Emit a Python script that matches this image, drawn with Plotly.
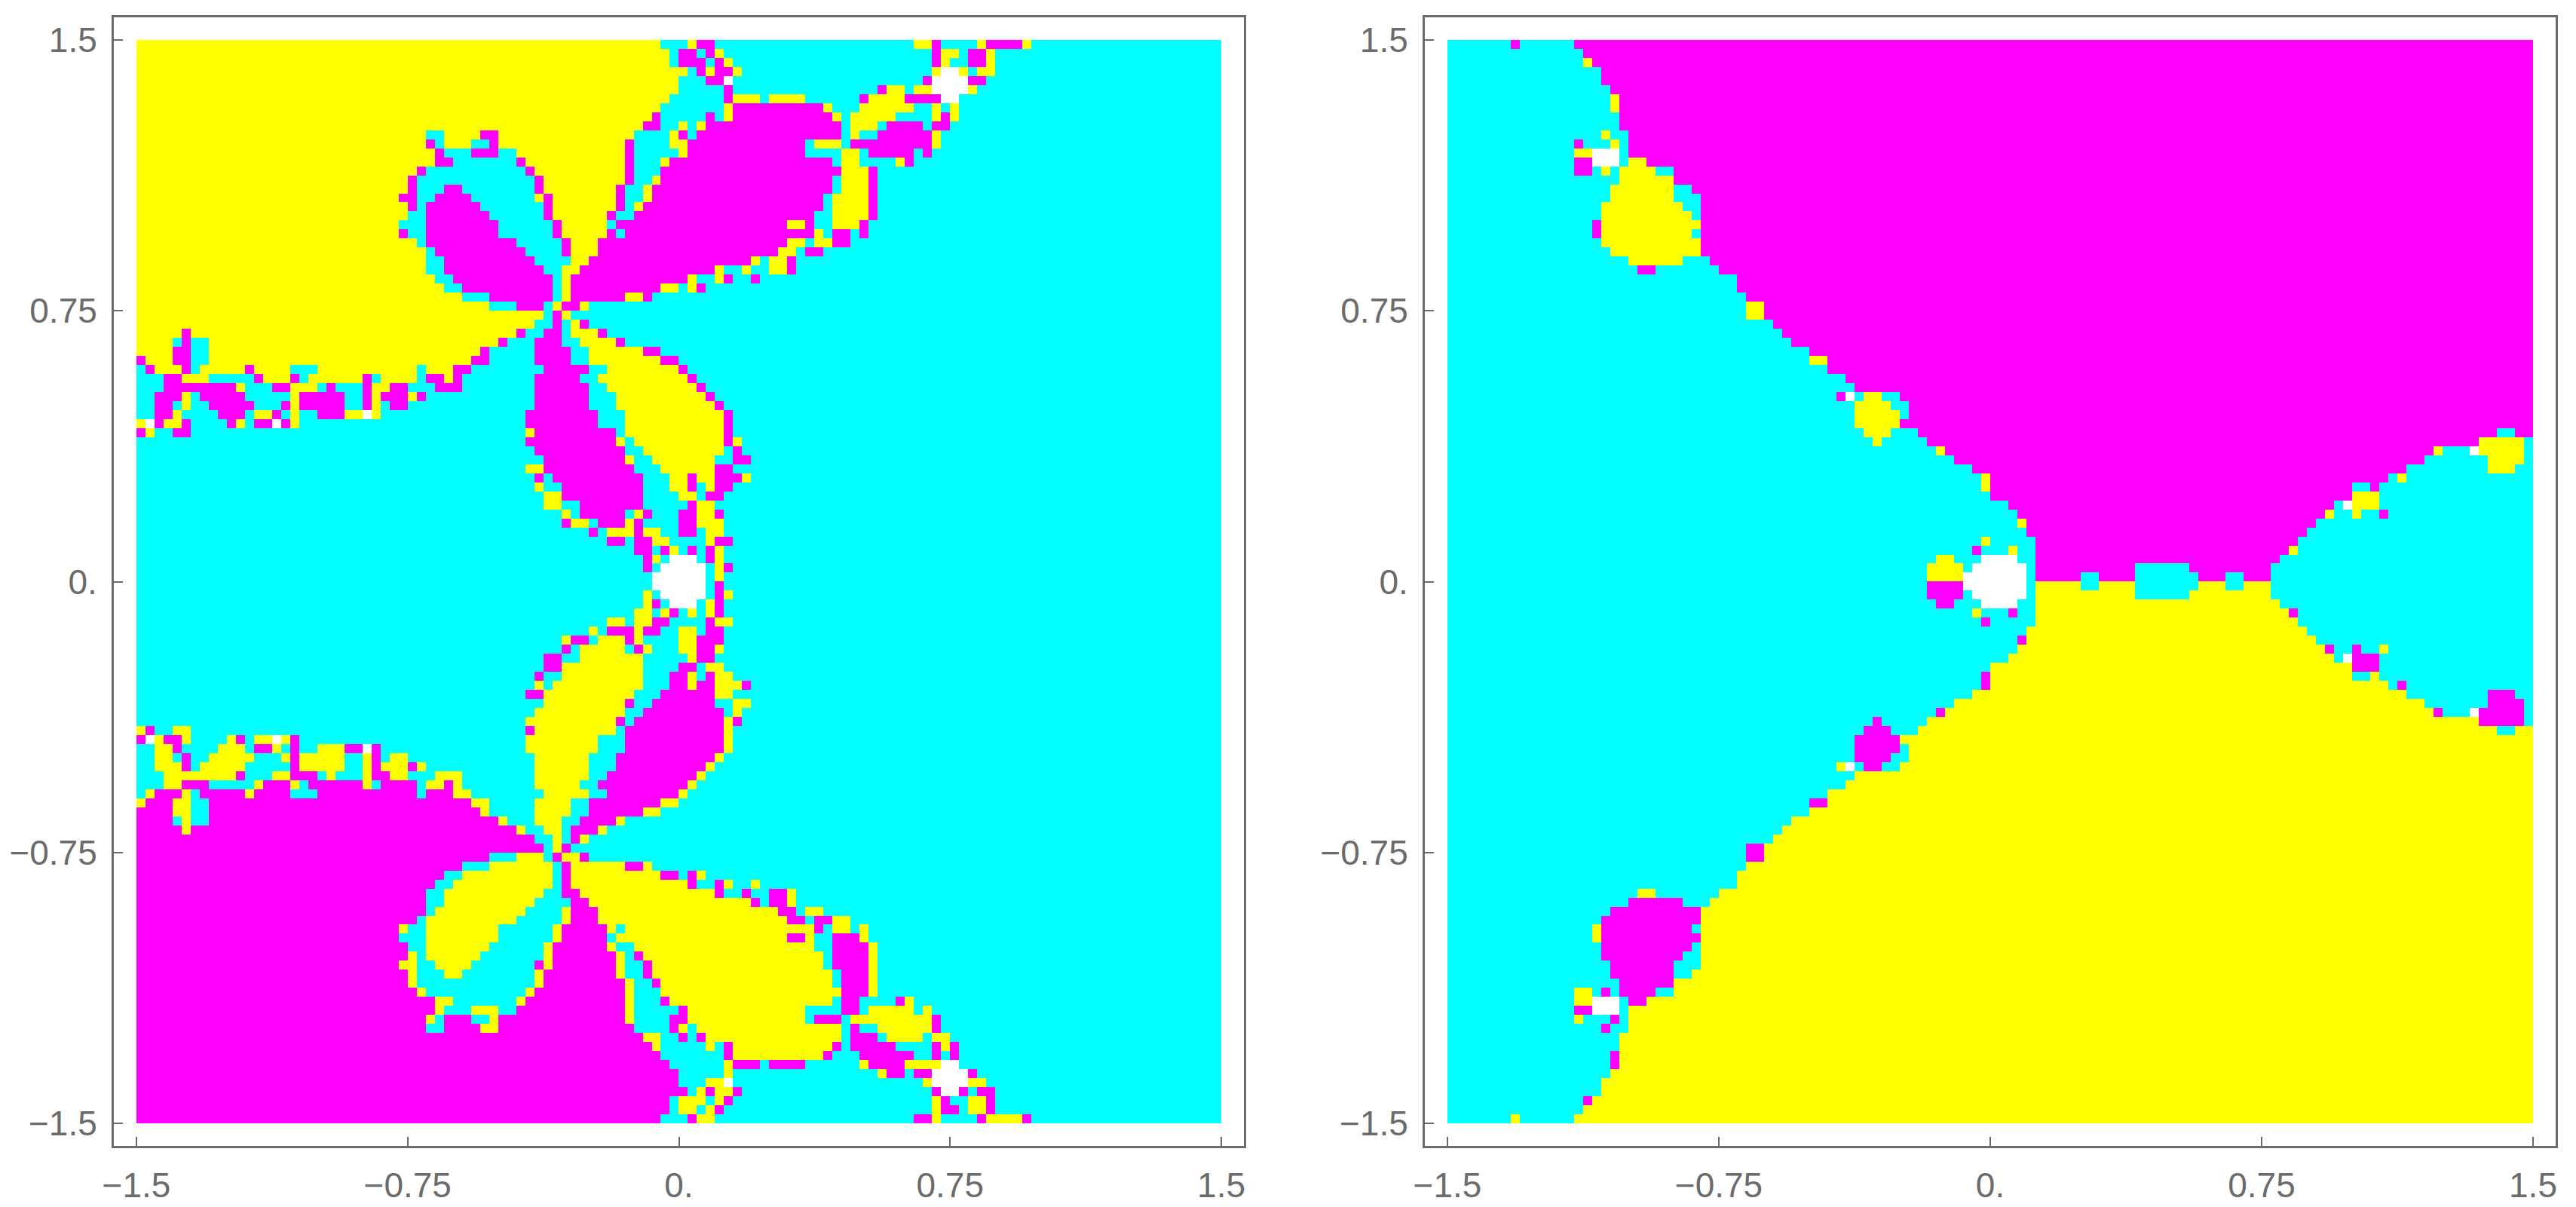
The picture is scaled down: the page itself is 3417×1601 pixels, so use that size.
import plotly.graph_objects as go

# Basin cells, one string per row from y=1.5 down to y=0,
# as run lengths on a 120 column grid. C cyan, Y yellow, M magenta, W white.
LEFT_TOP_ROWS = [
    "58Y 3C 1Y 2M 22C 2Y 1M 4C 1Y 4M 1Y 21C",
    "59Y 1C 2M 1C 1M 1Y 23C 1M 2Y 1C 2M 1Y 25C",
    "59Y 1C 3M 1C 1M 1Y 22C 1M 1Y 2C 2M 1Y 25C",
    "61Y 1C 1M 1Y 2M 1Y 21C 1Y 2W 1Y 1C 2Y 25C",
    "60Y 3C 2M 1W 21C 1M 4W 2M 26C",
    "60Y 5C 1M 16C 1M 2Y 1C 2Y 4W 1Y 27C",
    "59Y 6C 1M 3Y 1C 4Y 6C 1M 4Y 4M 2W 29C",
    "58Y 7C 1Y 10M 1Y 3C 6Y 2C 1Y 1C 1Y 29C",
    "57Y 1M 5C 1M 1C 1Y 11M 1Y 1C 5Y 4C 1Y 1M 1Y 29C",
    "56Y 2M 2C 1Y 1C 1Y 15M 1C 3Y 1C 4M 1C 2M 30C",
    "32Y 2C 4Y 2M 15Y 4C 1Y 1M 1C 16M 1C 1Y 2C 6M 1Y 31C",
    "32Y 1M 1C 3Y 2C 1M 14Y 1M 4C 1Y 1Y 13M 1C 3Y 1C 9M 1Y 31C",
    "33Y 1M 3C 3M 2C 12Y 1M 5C 1Y 13M 4C 2Y 1C 5M 1C 1M 32C",
    "33Y 2M 7C 1M 11Y 1M 3C 1Y 18M 1C 2Y 4C 1Y 1M 34C",
    "31Y 1M 11C 1M 10Y 1M 3C 20M 3Y 1M 38C",
    "30Y 1M 13C 1M 9Y 1M 2C 1Y 19M 1C 3Y 1M 38C",
    "30Y 1M 3C 2M 8C 1M 8Y 1M 2C 1Y 20M 1C 3Y 1M 38C",
    "29Y 2M 2C 4M 7C 1Y 1M 7Y 1M 2C 1Y 19M 1C 4Y 1M 38C",
    "30Y 1M 1C 6M 7C 1M 7Y 1M 1C 1Y 20M 1C 4Y 1M 38C",
    "30Y 2C 7M 6C 1M 6Y 1M 2C 20M 2C 4Y 1M 38C",
    "29Y 3C 8M 6C 1M 5Y 1C 19M 2Y 1M 2C 3Y 1M 39C",
    "29Y 1M 2C 8M 6C 1M 5Y 1M 1C 21M 1Y 1C 2M 1C 1M 39C",
    "31Y 1C 10M 5C 1M 3Y 1M 20M 2Y 1C 2Y 2M 41C",
    "32Y 1C 10M 4C 1M 3Y 20M 2Y 1C 2M 44C",
    "32Y 2C 10M 4C 2Y 18M 1Y 1C 2Y 1M 47C",
    "32Y 2C 11M 2C 2Y 15M 1Y 2C 1Y 2C 2Y 1M 47C",
    "33Y 2C 11M 1C 1Y 13M 1Y 2C 1Y 1M 2C 1M 51C",
    "34Y 2C 10M 1C 1Y 10M 2Y 1C 1Y 1M 1C 56C",
    "36Y 3C 7M 1C 1Y 6M 2Y 1M 63C",
    "39Y 3C 3M 1C 1Y 2M 1Y 1C 69C",
    "45Y 1C 1M 1Y 72C",
    "44Y 2C 1M 1C 1Y 1M 70C",
    "5Y 1M 36Y 1M 2C 2M 1C 3Y 1M 68C",
    "4Y 1C 1M 2C 32Y 1M 3C 3M 2C 4Y 1M 66C",
    "4Y 2M 2C 30Y 1M 5C 4M 2C 6Y 2M 62C",
    "1M 3Y 2M 2C 29Y 2M 5C 4M 2C 8Y 2M 60C",
    "1C 1M 3Y 1M 1C 5Y 1M 4Y 3C 11Y 1C 3Y 2M 8C 5M 2C 8Y 1M 60C",
    "3C 2M 3Y 5C 1M 3Y 1M 1C 6Y 1M 1C 4Y 1C 2M 1Y 1M 8C 5M 2C 10Y 1M 58C",
    "3C 8M 1Y 3C 2M 3Y 1C 1M 3C 1M 2Y 2M 3C 3M 8C 6M 2C 10Y 1M 57C",
    "2C 3M 1Y 1C 5M 5C 1Y 5M 2C 1M 1Y 3M 1Y 1M 12C 6M 3C 10Y 1M 56C",
    "2C 2M 1C 1Y 2C 5M 3C 1M 1Y 5M 2C 1M 1Y 1C 2M 14C 6M 3C 11Y 1M 55C",
    "2C 2M 1Y 4C 3M 1C 2Y 1M 1C 1Y 2C 3M 2Y 1W 1Y 16C 8M 3C 11Y 1M 54C",
    "1Y 1W 1M 2Y 1M 4C 1M 1Y 1C 2M 1W 1M 1Y 25C 8M 3C 11Y 1M 54C",
    "1M 1Y 2C 2M 37C 1Y 9M 1C 11Y 1M 54C",
    "43C 10M 1Y 1C 10Y 1M 1Y 53C",
    "44C 10M 2C 9Y 1C 1M 53C",
    "45C 9M 1Y 2C 7Y 2C 2M 52C",
    "43C 2Y 10M 3C 6Y 2M 54C",
    "44C 1M 1C 10M 3C 2Y 1M 2Y 3M 1Y 52C",
    "44C 1Y 2C 9M 3C 2Y 1M 1C 1Y 2M 54C",
    "45C 2Y 9M 4C 2Y 1C 2M 55C",
    "45C 2Y 2C 7M 5C 1M 2Y 56C",
    "47C 1Y 1C 5M 1C 1Y 1M 3C 2M 2Y 1M 55C",
    "47C 1M 2Y 1C 3M 1Y 1M 4C 2M 3Y 55C",
    "50C 1M 1C 3Y 1M 2Y 2C 2M 1C 2Y 55C",
    "52C 2M 1C 2M 2Y 4C 1Y 2M 54C",
    "55C 2M 1C 1M 1Y 1C 1M 1C 1M 1Y 55C",
    "56C 1M 1Y 1C 3W 1C 1M 1Y 55C",
    "56C 1M 1C 5W 1C 1Y 1M 54C",
    "57C 6W 1C 1Y 55C",
]

RIGHT_TOP_ROWS = [
    "7C 1M 6C 106M",
    "15C 105M",
    "15C 1Y 104M",
    "17C 103M",
    "17C 103M",
    "18C 102M",
    "18C 1Y 101M",
    "18C 1Y 101M",
    "19C 101M",
    "19C 101M",
    "17C 1Y 2C 100M",
    "14C 1M 3C 1Y 1C 100M",
    "14C 2Y 3W 1C 100M",
    "14C 2M 3W 1C 2Y 98M",
    "14C 2M 1C 1Y 1C 4Y 2C 95M",
    "19C 6Y 95M",
    "18C 7Y 2C 93M",
    "18C 7Y 3C 92M",
    "17C 9Y 2C 92M",
    "17C 10Y 1C 92M",
    "16C 1M 11Y 92M",
    "16C 1M 10Y 1C 92M",
    "17C 11Y 92M",
    "18C 10Y 92M",
    "20C 6Y 3C 91M",
    "21C 2M 7C 90M",
    "32C 88M",
    "32C 88M",
    "33C 87M",
    "33C 2Y 85M",
    "33C 2Y 85M",
    "36C 84M",
    "37C 83M",
    "38C 82M",
    "40C 80M",
    "40C 2Y 78M",
    "42C 78M",
    "44C 76M",
    "45C 75M",
    "43C 1M 1W 1C 2Y 2C 70M",
    "45C 4Y 2C 69M",
    "45C 5Y 1C 69M",
    "45C 5Y 70M",
    "46C 3Y 3C 64M 2C 2M",
    "47C 1Y 5C 61M 5Y 1C",
    "54C 1Y 54M 1Y 3C 1W 5Y 1C",
    "56C 52M 7C 4Y 1C",
    "58C 48M 9C 3Y 2C",
    "59C 1Y 44M 1C 1Y 14C",
    "59C 1Y 40M 2C 1M 17C",
    "60C 40M 3Y 17C",
    "62C 36M 1C 1W 3Y 17C",
    "63C 34M 1Y 2C 1Y 2C 1M 16C",
    "63C 1Y 32M 24C",
    "64C 31M 25C",
    "59C 1Y 5C 29M 26C",
    "58C 1M 3C 1Y 2C 28M 1Y 26C",
    "54C 2Y 3C 4W 2C 27M 28C",
    "53C 4Y 1C 6W 1C 11M 6C 9M 29C",
    "53C 4Y 7W 1C 5M 2C 4M 7C 3M 2C 3M 29C",
]

TICK_VALUES = [-1.5, -0.75, 0, 0.75, 1.5]
TICK_LABELS = ["−1.5", "−0.75", "0.", "0.75", "1.5"]

CODES = {"W": 0, "C": 1, "Y": 2, "M": 3}
GREY = "#6b6b6b"
N = 120


def expand(row):
    cells = []
    for run in row.split():
        cells += [run[-1]] * int(run[:-1])
    return (cells + ["C"] * N)[:N]


def panel_z(top_rows):
    # the lower half of each panel is the upper half flipped with yellow and magenta swapped
    top = [expand(r) for r in top_rows]
    swap = {"Y": "M", "M": "Y", "C": "C", "W": "W"}
    bottom = [[swap[c] for c in r] for r in reversed(top)]
    return [[CODES[c] for c in r] for r in top + bottom]


centers = [-1.5 + 3 * (i + 0.5) / N for i in range(N)]
ys = centers[::-1]

colorscale = [
    [0, "#ffffff"], [0.25, "#ffffff"],
    [0.25, "#00ffff"], [0.5, "#00ffff"],
    [0.5, "#ffff00"], [0.75, "#ffff00"],
    [0.75, "#ff00ff"], [1, "#ff00ff"],
]

fig = go.Figure()
fig.add_trace(go.Heatmap(x=centers, y=ys, z=panel_z(LEFT_TOP_ROWS), xaxis="x", yaxis="y",
                         colorscale=colorscale, zmin=0, zmax=3, showscale=False, hoverinfo="skip"))
fig.add_trace(go.Heatmap(x=centers, y=ys, z=panel_z(RIGHT_TOP_ROWS), xaxis="x2", yaxis="y2",
                         colorscale=colorscale, zmin=0, zmax=3, showscale=False, hoverinfo="skip"))

W, H = 3417, 1601
axis = dict(
    range=[-1.5625, 1.5625], tickvals=TICK_VALUES, ticktext=TICK_LABELS,
    ticks="inside", ticklen=12, tickwidth=1.5, tickcolor=GREY,
    showline=True, linewidth=3, linecolor=GREY, mirror=True,
    showgrid=False, zeroline=False, ticklabelstandoff=10,
    tickfont=dict(family="Liberation Sans", size=46, color=GREY),
)
# pixel positions are 8 less than in the target because the page body has an 8px margin
y_domain = [1 - 1512 / H, 1 - 15 / H]

fig.update_layout(
    width=W, height=H, margin=dict(l=0, r=0, t=0, b=0, autoexpand=False),
    paper_bgcolor="white", plot_bgcolor="white", showlegend=False,
    xaxis=dict(axis, domain=[143 / W, 1642 / W], anchor="y"),
    yaxis=dict(axis, domain=y_domain, anchor="x"),
    xaxis2=dict(axis, domain=[1882 / W, 3382 / W], anchor="y2"),
    yaxis2=dict(axis, domain=y_domain, anchor="x2"),
)

fig.write_html("out.html", config={"displayModeBar": False})
